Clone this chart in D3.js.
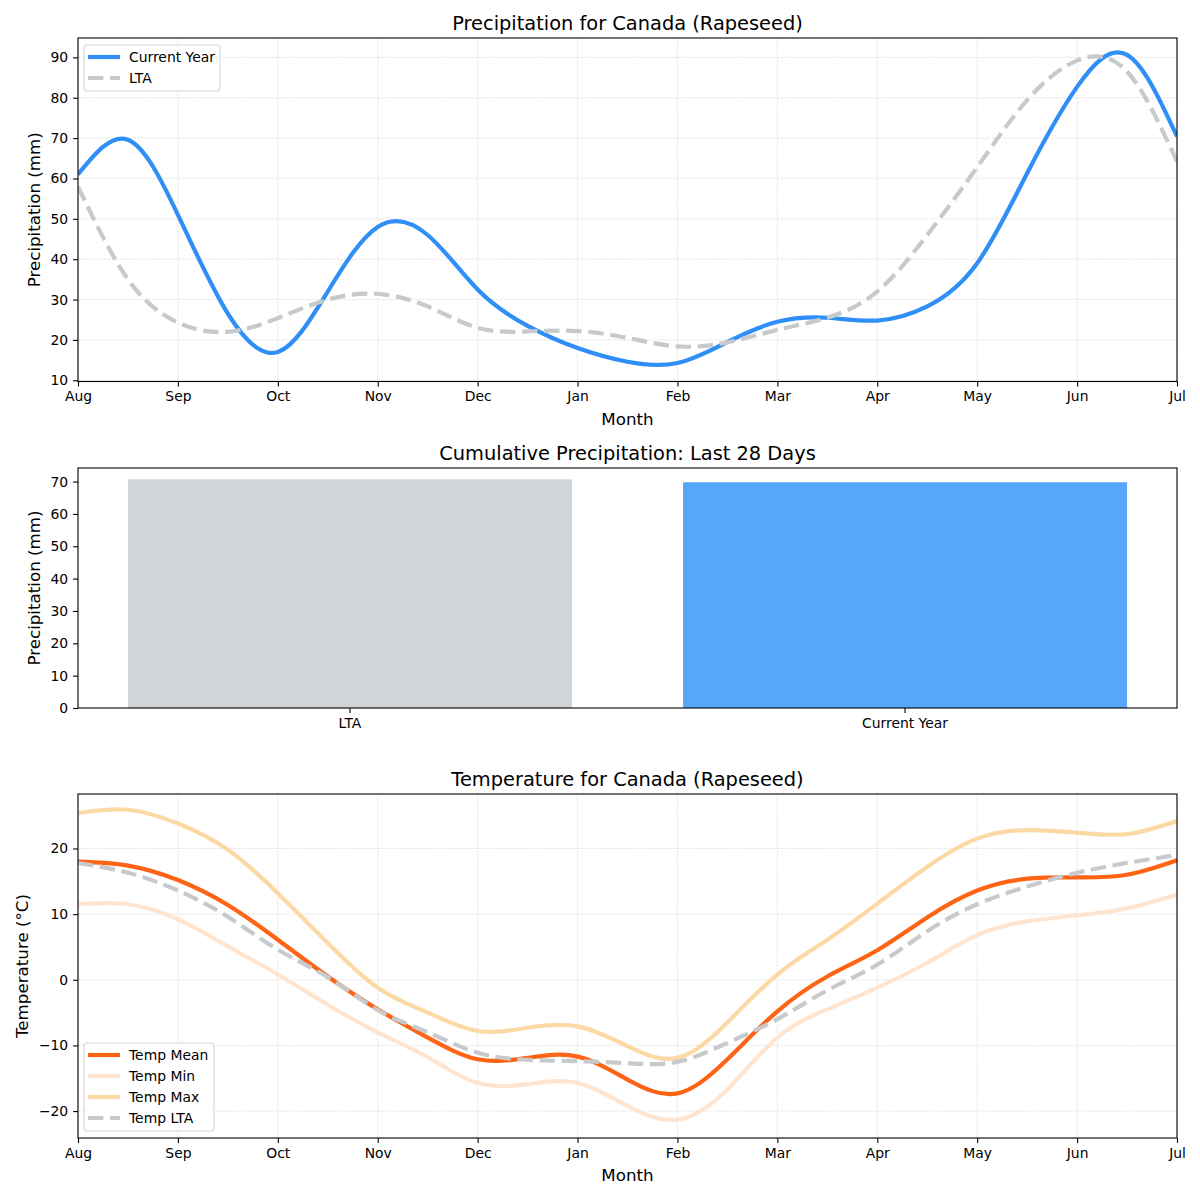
<!DOCTYPE html>
<html>
<head>
<meta charset="utf-8">
<script src="https://cdn.jsdelivr.net/npm/d3@7"></script>
<style>
  body { margin: 0; background: #fff; }
  svg, svg text { font-family: "DejaVu Sans", sans-serif; }
  .tick text { font-size: 13.9px; fill: #000; font-family: "DejaVu Sans", sans-serif; }
  .grid line { stroke: #dcdcdc; stroke-width: 0.7; stroke-dasharray: 2.6,1.1; }
</style>
</head>
<body>
<svg id="chart" width="1200" height="1200"></svg>
<script>
// Month labels and the half-month grid the values were read on
const months = ["Aug", "Sep", "Oct", "Nov", "Dec", "Jan", "Feb", "Mar", "Apr", "May", "Jun", "Jul"];
const steps = d3.range(23).map(i => i / 2);

// Precipitation (mm)
const precipCurrent = [61, 69.6, 51, 26.5, 17, 32, 48, 46, 32.5, 23.5, 18, 14.6, 14.3, 19.5, 24.5, 25.5, 24.8, 28.3, 39, 61.3, 82.7, 90.6, 70.4];
const precipLTA = [58, 35, 24.3, 22, 25.4, 30, 31.4, 28.3, 23, 22.1, 22.2, 20.5, 18.4, 19.4, 22.5, 25.5, 32, 46, 62.8, 79.4, 89.2, 86.5, 64.2];

// Cumulative precipitation, last 28 days
const barLabels = ["LTA", "Current Year"];
const barValues = [70.7, 69.8];

// Temperature (°C)
const tempMean = [18.0, 17.4, 15.2, 11.4, 6.1, 0.5, -4.5, -8.8, -12.1, -11.9, -11.7, -15.2, -17.3, -12.1, -4.8, 0.5, 4.5, 9.5, 13.6, 15.4, 15.6, 16.0, 18.2];
const tempMin = [11.5, 11.5, 9.2, 5.1, 0.8, -3.8, -8.0, -11.8, -15.7, -15.9, -15.7, -19.2, -21.3, -16.7, -8.8, -4.5, -1.2, 2.6, 6.8, 8.9, 9.8, 10.9, 13.0];
const tempMax = [25.4, 25.9, 23.8, 19.8, 13.2, 5.6, -1.2, -5.0, -7.8, -7.3, -7.1, -10.1, -11.9, -6.5, 0.8, 6.1, 11.6, 17.2, 21.5, 22.8, 22.4, 22.2, 24.2];
const tempLTA = [17.8, 16.3, 13.6, 9.6, 4.6, 0.4, -4.6, -8.0, -11.1, -12.2, -12.4, -12.7, -12.5, -9.6, -6.0, -1.6, 2.3, 7.4, 11.5, 14.2, 16.3, 17.8, 19.0];

const svg = d3.select("#chart");
svg.append("rect").attr("width", 1200).attr("height", 1200).attr("fill", "#fff");

const left = 78, right = 1177;
const blue = "#2f8ff6", gray = "#c7cacd";
const font = "DejaVu Sans, sans-serif";

// shared pieces for the two line panels
function linePanel(cfg) {
    const x = d3.scaleLinear().domain([0, 11]).range([left, right]);
    const y = d3.scaleLinear().domain(cfg.domain).range([cfg.bottom, cfg.top]);
    const g = svg.append("g");

    // grid
    const grid = g.append("g").attr("class", "grid");
    grid.selectAll(".gx").data(d3.range(12)).join("line")
        .attr("x1", d => x(d)).attr("x2", d => x(d))
        .attr("y1", cfg.top).attr("y2", cfg.bottom);
    grid.selectAll(".gy").data(cfg.ticks).join("line")
        .attr("x1", left).attr("x2", right)
        .attr("y1", d => y(d)).attr("y2", d => y(d));

    const clipId = "clip" + cfg.top;
    svg.append("clipPath").attr("id", clipId).append("rect")
        .attr("x", left).attr("y", cfg.top).attr("width", right - left).attr("height", cfg.bottom - cfg.top);

    const line = d3.line().x((d, i) => x(steps[i])).y(d => y(d)).curve(d3.curveNatural);
    const lines = g.append("g").attr("clip-path", `url(#${clipId})`);
    cfg.series.forEach(s => {
        lines.append("path")
            .attr("d", line(s.values))
            .attr("fill", "none")
            .attr("stroke", s.color)
            .attr("stroke-width", 4.2)
            .attr("stroke-linejoin", "round")
            .attr("stroke-dasharray", s.dash ? "15.4,6.7" : null);
    });

    // axes
    g.append("g").attr("transform", `translate(0,${cfg.bottom})`)
        .call(d3.axisBottom(x).tickValues(d3.range(12)).tickFormat(i => months[i]).tickSizeInner(4.9).tickSizeOuter(0).tickPadding(4.9))
        .attr("font-family", font);
    g.append("g").attr("transform", `translate(${left},0)`)
        .call(d3.axisLeft(y).tickValues(cfg.ticks).tickFormat(d => d < 0 ? "\u2212" + Math.abs(d) : d).tickSizeInner(4.9).tickSizeOuter(0).tickPadding(4.9))
        .attr("font-family", font);
    g.selectAll(".domain").remove();
    g.selectAll(".tick line").attr("stroke", "#000").attr("stroke-width", 1.1);

    g.append("rect").attr("x", left).attr("y", cfg.top).attr("width", right - left).attr("height", cfg.bottom - cfg.top)
        .attr("fill", "none").attr("stroke", "#000").attr("stroke-width", 1.1);

    g.append("text").attr("x", (left + right) / 2).attr("y", cfg.top - 8.5)
        .attr("text-anchor", "middle").attr("font-size", 19.4).text(cfg.title);
    g.append("text").attr("x", (left + right) / 2).attr("y", cfg.bottom + 43)
        .attr("text-anchor", "middle").attr("font-size", 16.7).text("Month");
    g.append("text").attr("transform", `translate(${cfg.ylabelX},${(cfg.top + cfg.bottom) / 2}) rotate(-90)`)
        .attr("text-anchor", "middle").attr("font-size", 16.7).text(cfg.ylabel);

    // legend
    const lg = g.append("g").attr("transform", `translate(${cfg.legend[0]},${cfg.legend[1]})`);
    const rowH = 21;
    lg.append("rect").attr("width", cfg.legendW).attr("height", cfg.series.length * rowH + 4)
        .attr("rx", 3).attr("fill", "#fff").attr("fill-opacity", 0.8)
        .attr("stroke", "#d6d6d6").attr("stroke-width", 1.1);
    cfg.series.forEach((s, i) => {
        const yy = 12 + i * rowH;
        lg.append("line").attr("x1", 4).attr("x2", 36).attr("y1", yy).attr("y2", yy)
            .attr("stroke", s.color).attr("stroke-width", 4.2)
            .attr("stroke-dasharray", s.dash ? "15.4,6.7" : null);
        lg.append("text").attr("x", 45).attr("y", yy).attr("dy", "0.36em")
            .attr("font-size", 13.9).text(s.name);
    });
}

linePanel({
    top: 38, bottom: 381.5, domain: [9.7, 94.8], ticks: d3.range(10, 91, 10),
    title: "Precipitation for Canada (Rapeseed)", ylabel: "Precipitation (mm)", ylabelX: 40,
    legend: [84, 45], legendW: 136,
    series: [
        { name: "Current Year", values: precipCurrent, color: blue },
        { name: "LTA", values: precipLTA, color: gray, dash: true }
    ]
});

linePanel({
    top: 794, bottom: 1138, domain: [-24.1, 28.3], ticks: [-20, -10, 0, 10, 20],
    title: "Temperature for Canada (Rapeseed)", ylabel: "Temperature (°C)", ylabelX: 28,
    legend: [84, 1043], legendW: 130,
    series: [
        { name: "Temp Mean", values: tempMean, color: "#ff6315" },
        { name: "Temp Min", values: tempMin, color: "#ffe5d0" },
        { name: "Temp Max", values: tempMax, color: "#fcd9a4" },
        { name: "Temp LTA", values: tempLTA, color: gray, dash: true }
    ]
});

// bar panel
const barTop = 468, barBottom = 708;
const bx = d3.scaleBand().domain(barLabels).range([left, right]).paddingInner(0.2).paddingOuter(0.09);
const by = d3.scaleLinear().domain([0, 74.2]).range([barBottom, barTop]);
const bg = svg.append("g");
bg.selectAll(".bar").data(barValues).join("rect")
    .attr("x", (d, i) => bx(barLabels[i]))
    .attr("width", bx.bandwidth())
    .attr("y", d => by(d))
    .attr("height", d => barBottom - by(d))
    .attr("fill", (d, i) => i === 0 ? "#d1d5d8" : "#58a6fa");
bg.append("g").attr("transform", `translate(0,${barBottom})`)
    .call(d3.axisBottom(bx).tickSizeInner(4.9).tickSizeOuter(0).tickPadding(4.9))
    .attr("font-family", font);
bg.append("g").attr("transform", `translate(${left},0)`)
    .call(d3.axisLeft(by).tickValues(d3.range(0, 71, 10)).tickSizeInner(4.9).tickSizeOuter(0).tickPadding(4.9))
    .attr("font-family", font);
bg.selectAll(".domain").remove();
bg.selectAll(".tick line").attr("stroke", "#000").attr("stroke-width", 1.1);
bg.append("rect").attr("x", left).attr("y", barTop).attr("width", right - left).attr("height", barBottom - barTop)
    .attr("fill", "none").attr("stroke", "#000").attr("stroke-width", 1.1);
bg.append("text").attr("x", (left + right) / 2).attr("y", barTop - 8.5)
    .attr("text-anchor", "middle").attr("font-size", 19.4).text("Cumulative Precipitation: Last 28 Days");
bg.append("text").attr("transform", `translate(40,${(barTop + barBottom) / 2}) rotate(-90)`)
    .attr("text-anchor", "middle").attr("font-size", 16.7).text("Precipitation (mm)");
</script>
</body>
</html>
